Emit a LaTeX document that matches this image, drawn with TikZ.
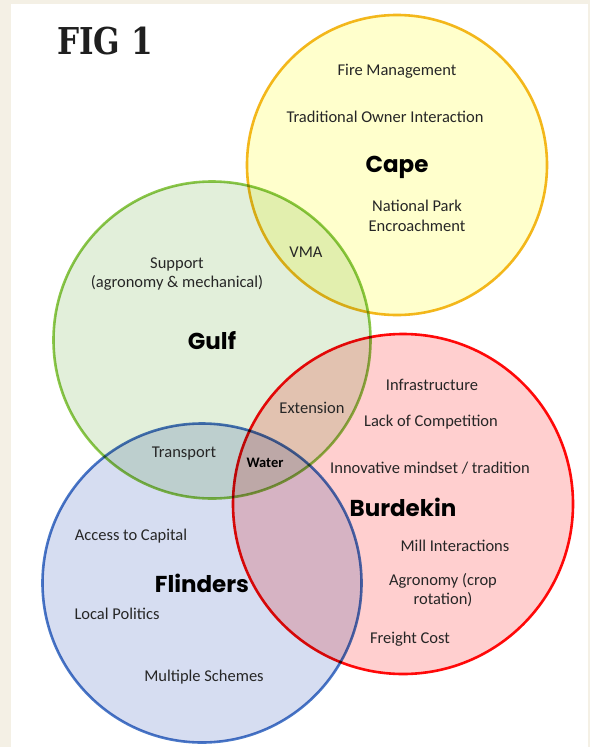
\documentclass[tikz,border=0pt]{standalone}
\usepackage{fontspec}
\usepackage{graphicx}
\setmainfont{Carlito}
\newfontfamily\headfont{Poppins}
\newfontfamily\figfont{DejaVu Serif}
\definecolor{cream}{HTML}{F4F0E5}
\definecolor{capeS}{HTML}{F3B71E}
\definecolor{capeF}{HTML}{FFFFCC}
\definecolor{gulfS}{HTML}{8DC84A}
\definecolor{gulfF}{HTML}{E2EFDA}
\definecolor{burdS}{HTML}{FF0A0A}
\definecolor{burdF}{HTML}{FFCFCF}
\definecolor{flinS}{HTML}{4A78C8}
\definecolor{flinF}{HTML}{D6DDF1}
\definecolor{txt}{HTML}{262626}
\tikzset{
  ring/.style={line width=2.6pt},
  item/.style={text=txt, font=\fontsize{16.5}{19.5}\selectfont, align=center, inner sep=0pt},
  region/.style={text=black, font=\headfont\bfseries\fontsize{23}{27}\selectfont, inner sep=0pt},
  small/.style={text=black, font=\bfseries\fontsize{14.5}{17}\selectfont, inner sep=0pt}
}
\begin{document}
\begin{tikzpicture}[x=1pt,y=-1pt]
\useasboundingbox (0,0) rectangle (590,747);
\fill[cream] (0,0) rectangle (590,747);
\fill[white] (11,4) rectangle (588,747);
\begin{scope}[blend group=multiply]
  \draw[ring, draw=capeS, fill=capeF] (397,165) circle (150);
  \draw[ring, draw=flinS, fill=flinF] (202,583) circle (159.5);
  \draw[ring, draw=gulfS, fill=gulfF] (212,340) circle (158.5);
  \draw[ring, draw=burdS, fill=burdF] (403,504) circle (170);
\end{scope}
\node[inner sep=0pt, text=black!88] (fig) at (105,41) {\scalebox{0.84}[1]{\figfont\bfseries\fontsize{37}{40}\selectfont FIG 1}};
% Cape
\node[item] (fire) at (397,71) {Fire Management};
\node[item] (trad) at (385,117) {Traditional Owner Interaction};
\node[region] (cape) at (397,167) {Cape};
\node[item] (park) at (417,216) {National Park\\Encroachment};
\node[item] (vma) at (306,252) {VMA};
% Gulf
\node[item] (supp) at (177,274) {Support\\(agronomy \& mechanical)};
\node[region] (gulf) at (212,341) {Gulf};
\node[item] (ext) at (312,408) {Extension};
\node[item] (trans) at (184,454) {Transport};
\node[small] (water) at (265,463) {Water};
% Burdekin
\node[item] (infra) at (432,385) {Infrastructure};
\node[item] (lack) at (431,422) {Lack of Competition};
\node[item] (innov) at (430,468) {Innovative mindset / tradition};
\node[region] (burd) at (403,507) {Burdekin};
\node[item] (mill) at (455,546) {Mill Interactions};
\node[item] (agro) at (443,590) {Agronomy (crop\\rotation)};
\node[item] (freight) at (410,639) {Freight Cost};
% Flinders
\node[item] (cap) at (131,536) {Access to Capital};
\node[region] (flin) at (202,583) {Flinders};
\node[item] (local) at (117,614) {Local Politics};
\node[item] (multi) at (204,677) {Multiple Schemes};
\end{tikzpicture}
\end{document}
